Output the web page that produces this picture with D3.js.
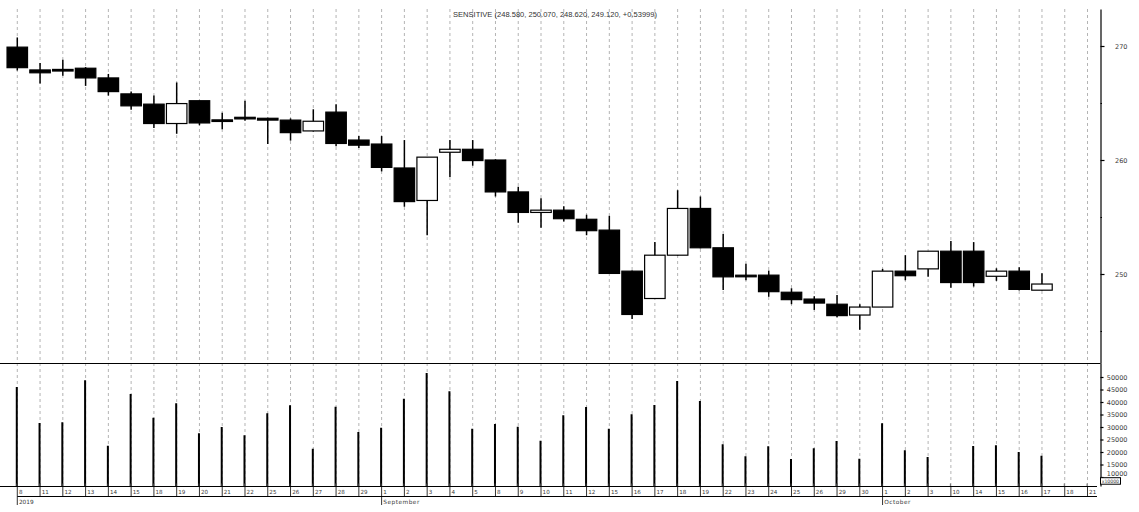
<!DOCTYPE html>
<html>
<head>
<meta charset="utf-8">
<script src="https://cdn.jsdelivr.net/npm/d3@7"></script>
<style>
  html, body { margin: 0; padding: 0; background: #fff; }
  svg { display: block; }
</style>
</head>
<body>
<svg id="chart" width="1139" height="512"></svg>
<script>
// ---------- DATA ----------
const title = "SENSITIVE (248.580, 250.070, 248.620, 249.120, +0.53999)";
const days = ["8","11","12","13","14","15","18","19","20","21","22","25","26","27","28","29",
  "1","2","3","4","5","8","9","10","11","12","15","16","17","18","19","22","23","24","25","26","29","30",
  "1","2","3","10","14","15","16","17","18","21"];
const monthLabels = ["2019", "September", "October"];
const monthStart = [0, 16, 38];

const open  = [269.9,267.9,267.9,268.05,267.2,265.8,264.9,263.2,265.2,263.5,263.7,263.66,263.5,262.55,264.2,261.75,
  261.4,259.3,256.45,260.68,260.94,260.0,257.2,255.4,255.6,254.8,253.85,250.25,247.85,251.65,255.75,252.3,249.85,249.9,248.4,247.8,247.35,246.4,
  247.1,250.25,250.45,252.0,252.0,249.8,250.25,248.58];
const high  = [270.75,268.5,268.8,268.15,267.55,266.0,265.65,266.8,265.2,264.15,265.2,263.7,263.65,264.45,264.9,262.1,
  262.1,261.75,260.25,261.75,261.75,260.06,257.65,256.65,255.95,255.2,255.1,250.3,252.8,257.35,256.8,253.5,250.9,250.3,248.75,248.05,248.15,247.35,
  250.45,251.65,252.0,252.9,252.8,250.5,250.6,250.07];
const low   = [267.85,266.7,267.4,266.5,265.65,264.4,262.8,262.3,263.05,262.7,263.45,261.4,261.7,262.5,261.2,261.05,
  259.0,255.9,253.4,258.5,259.5,256.8,254.5,254.05,254.6,253.4,250.0,246.05,247.85,251.6,252.25,248.6,249.45,248.0,247.35,246.85,246.2,245.1,
  247.1,249.45,249.75,248.8,248.9,249.4,248.55,248.55];
const close = [268.1,267.65,267.85,267.2,266.0,264.75,263.2,264.95,263.25,263.4,263.65,263.5,262.4,263.4,261.45,261.3,
  259.35,256.35,260.25,260.94,259.95,257.2,255.4,255.6,254.85,253.8,250.05,246.45,251.65,255.75,252.3,249.75,249.8,248.45,247.75,247.45,246.35,247.1,
  250.25,249.85,252.0,249.25,249.25,250.25,248.65,249.12];
const volume = [46000,31600,31900,48700,22500,43200,33700,39500,27500,30000,26700,35500,38700,21300,38100,28000,
  29700,41300,51600,44300,29300,31200,30100,24500,34700,38000,29300,35100,38800,48400,40400,23100,18300,22300,17200,21500,24400,17300,
  31500,20700,18000,null,22400,22700,20000,18500];

const priceMajor = [250, 260, 270];
const priceMinor = [245, 255, 265];
const volTicks = [10000,15000,20000,25000,30000,35000,40000,45000,50000];

// ---------- LAYOUT ----------
const svg = d3.select("#chart");
const axisX = 1100.5;
const priceTop = 9, priceBottom = 363, volBottom = 486;
const labelFont = "DejaVu Sans, sans-serif";
const textColor = "#3a3a3a";

const x = d3.scaleBand().domain(d3.range(days.length)).range([5.9, 1098.9]).padding(0);
const cx = i => x(i) + x.bandwidth() / 2;

const yBase = d3.scaleLinear().domain([250, 270]).range([274, 46]);
const yP = d3.scaleLinear().domain([yBase.invert(priceBottom), yBase.invert(priceTop)]).range([priceBottom, priceTop]);
const vBase = d3.scaleLinear().domain([10000, 50000]).range([477, 377]);
const yV = d3.scaleLinear().domain([vBase.invert(volBottom), vBase.invert(priceBottom)]).range([volBottom, priceBottom]);

// ---------- GRID ----------
svg.append("g").selectAll("line").data(days).join("line")
  .attr("x1", (d, i) => cx(i)).attr("x2", (d, i) => cx(i))
  .attr("y1", priceTop).attr("y2", volBottom)
  .attr("stroke", "#b4b4b4").attr("stroke-width", 1).attr("stroke-dasharray", "3,3");

// ---------- TITLE ----------
svg.append("text").attr("x", 453).attr("y", 16.5)
  .attr("font-family", "Liberation Sans, Arial, sans-serif").attr("font-size", 7)
  .attr("fill", "#333").attr("textLength", 204).attr("lengthAdjust", "spacingAndGlyphs")
  .text(title);

// ---------- CANDLES ----------
const candles = open.map((o, i) => ({ i, o, h: high[i], l: low[i], c: close[i] }));
const bodyW = x.bandwidth() * 0.9;

svg.append("g").selectAll("line").data(candles).join("line")
  .attr("x1", d => cx(d.i)).attr("x2", d => cx(d.i))
  .attr("y1", d => yP(d.h)).attr("y2", d => yP(d.l))
  .attr("stroke", "#000").attr("stroke-width", 1.5);

svg.append("g").selectAll("rect").data(candles).join("rect")
  .attr("x", d => cx(d.i) - bodyW / 2)
  .attr("width", bodyW)
  .attr("y", d => {
    const top = yP(Math.max(d.o, d.c)), bot = yP(Math.min(d.o, d.c));
    return (bot - top < 1.6) ? (top + bot) / 2 - 0.8 : top;
  })
  .attr("height", d => Math.max(1.6, yP(Math.min(d.o, d.c)) - yP(Math.max(d.o, d.c))))
  .attr("fill", d => d.c > d.o ? "#fff" : "#000")
  .attr("stroke", "#000").attr("stroke-width", 1.2);

// ---------- VOLUME ----------
svg.append("g").selectAll("rect").data(volume.map((v, i) => ({ v, i })).filter(d => d.v != null)).join("rect")
  .attr("x", d => cx(d.i) - 1.5).attr("width", 2)
  .attr("y", d => yV(d.v)).attr("height", d => volBottom - yV(d.v))
  .attr("fill", "#000");

// ---------- SEPARATOR ----------
svg.append("line").attr("x1", 0).attr("x2", axisX).attr("y1", priceBottom + 0.5).attr("y2", priceBottom + 0.5)
  .attr("stroke", "#000").attr("stroke-width", 1);

// ---------- PRICE AXIS ----------
const pAxisG = svg.append("g").attr("transform", `translate(${axisX},0)`);
pAxisG.call(d3.axisRight(yP).tickValues(priceMajor).tickSize(4).tickSizeOuter(0).tickFormat(d3.format("d")));
const pMinorG = svg.append("g").attr("transform", `translate(${axisX},0)`);
pMinorG.call(d3.axisRight(yP).tickValues(priceMinor).tickSize(1.5).tickSizeOuter(0).tickFormat(""));
pMinorG.select(".domain").remove();

// ---------- VOLUME AXIS ----------
const vAxisG = svg.append("g").attr("transform", `translate(${axisX},0)`);
vAxisG.call(d3.axisRight(yV).tickValues(volTicks).tickSize(3).tickSizeOuter(0).tickFormat(d3.format("d")));

[pAxisG, vAxisG].forEach(g => {
  g.select(".domain").attr("stroke", "#000").attr("stroke-width", 1.2);
  g.selectAll(".tick line").attr("stroke", "#000").attr("stroke-width", 1.2);
  g.selectAll(".tick text").attr("x", 27).attr("text-anchor", "end")
    .attr("font-family", labelFont).attr("font-size", 6.5).attr("fill", textColor);
});
pMinorG.selectAll(".tick line").attr("stroke", "#000").attr("stroke-width", 1.2);
// lowest volume label sits just above the x10000 box
vAxisG.selectAll(".tick").filter(d => d === 10000).select("text").attr("dy", "-0.2em");

// x10000 box
svg.append("rect").attr("x", axisX).attr("y", 477.7).attr("width", 20).attr("height", 6.5)
  .attr("fill", "#fff").attr("stroke", "#000").attr("stroke-width", 1);
svg.append("text").attr("x", axisX + 1.2).attr("y", 483)
  .attr("font-family", labelFont).attr("font-size", 4.6).attr("fill", textColor).text("x10000");

// ---------- X AXIS ----------
const xa = svg.append("g");
xa.append("line").attr("x1", 0).attr("x2", 1097).attr("y1", volBottom + 0.5).attr("y2", volBottom + 0.5)
  .attr("stroke", "#000").attr("stroke-width", 1);
xa.append("line").attr("x1", cx(0)).attr("x2", 1097).attr("y1", 496.5).attr("y2", 496.5)
  .attr("stroke", "#000").attr("stroke-width", 1);
xa.selectAll(".tk").data(days).join("line").attr("class", "tk")
  .attr("x1", (d, i) => cx(i) - 0.5).attr("x2", (d, i) => cx(i) - 0.5)
  .attr("y1", 483.5).attr("y2", volBottom)
  .attr("stroke", "#555").attr("stroke-width", 0.8);
xa.selectAll(".sep").data(days).join("line").attr("class", "sep")
  .attr("x1", (d, i) => cx(i)).attr("x2", (d, i) => cx(i))
  .attr("y1", volBottom).attr("y2", 496.5)
  .attr("stroke", "#000").attr("stroke-width", 0.8);
xa.selectAll(".dl").data(days).join("text").attr("class", "dl")
  .attr("x", (d, i) => cx(i) + 1.6).attr("y", 493.8)
  .attr("font-family", labelFont).attr("font-size", 5.6).attr("fill", textColor)
  .text(d => d);
xa.selectAll(".ms").data(monthStart).join("line").attr("class", "ms")
  .attr("x1", d => cx(d)).attr("x2", d => cx(d))
  .attr("y1", 496.5).attr("y2", 505)
  .attr("stroke", "#000").attr("stroke-width", 0.8);
xa.selectAll(".ml").data(monthLabels).join("text").attr("class", "ml")
  .attr("x", (d, k) => cx(monthStart[k]) + 1.6).attr("y", 503.6)
  .attr("font-family", labelFont).attr("font-size", 5.8).attr("fill", textColor)
  .attr("letter-spacing", (d, k) => k === 0 ? 0 : 0.5)
  .text(d => d);
</script>
</body>
</html>
